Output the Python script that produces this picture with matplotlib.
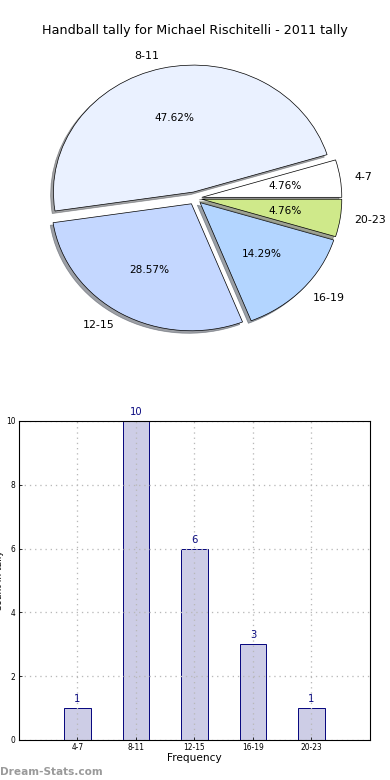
import numpy as np
import matplotlib
matplotlib.use('Agg')
import matplotlib.pyplot as plt

# data
groups = ['4-7', '8-11', '12-15', '16-19', '20-23']
counts = [1, 10, 6, 3, 1]
pie_colors = ['#ffffff', '#eaf1ff', '#c4d7ff', '#b3d5ff', '#cfe98a']
title = 'Handball tally for Michael Rischitelli - 2011 tally'

plt.rcParams['font.family'] = 'DejaVu Sans'

fig = plt.figure(figsize=(390 / 72, 780 / 72), dpi=72)

# pie
ax = fig.add_axes([0.0513, 0.5423, 0.897, 0.407])
wedges, texts, autotexts = ax.pie(counts, labels=groups, colors=pie_colors,
                                  explode=[0.05] * len(counts), shadow=True,
                                  startangle=0, autopct='%.2f%%',
                                  wedgeprops={'edgecolor': 'black', 'linewidth': 0.7})
for t in texts:
    t.set_fontsize(11)
for t in autotexts:
    t.set_fontsize(10.5)
ax.set_aspect('auto')
ax.set_xlim(-1.25, 1.25)
ax.set_ylim(-1.25, 1.25)
fig.text(0.5, 0.961, title, ha='center', va='center', fontsize=12.8)

# bars
ax = fig.add_axes([0.0487, 0.0513, 0.9, 0.409])
x = np.arange(1, len(groups) + 1)
ax.bar(x, counts, width=0.45, color='#cdcde6', edgecolor='#0a0a80', linewidth=1.0, zorder=1)
for xi, c in zip(x, counts):
    ax.text(xi, c + 0.12, str(c), ha='center', va='bottom', color='#0a0a80', fontsize=10)
ax.set_xlim(0, 6)
ax.set_ylim(0, 10)
ax.set_xticks(x)
ax.set_xticklabels(groups)
ax.set_yticks([0, 2, 4, 6, 8, 10])
ax.tick_params(direction='in', labelsize=7.5, length=3)
for s in ax.spines.values():
    s.set_linewidth(1.1)
    s.set_zorder(3)
ax.grid(True, linestyle=(0, (1, 3)), color='#b8b8b8', linewidth=1.3, zorder=1.5)
ax.set_axisbelow(False)
ax.set_xlabel('Frequency', fontsize=10.5, labelpad=1)
ax.set_ylabel('Count in tally', fontsize=9)
ax.yaxis.set_label_coords(-0.043, 0.5)

fig.text(0.0, 0.004, 'Dream-Stats.com', color='#9a9a9a', fontsize=10.5,
         fontweight='bold', ha='left', va='bottom')

fig.savefig('out.png', dpi=72)
